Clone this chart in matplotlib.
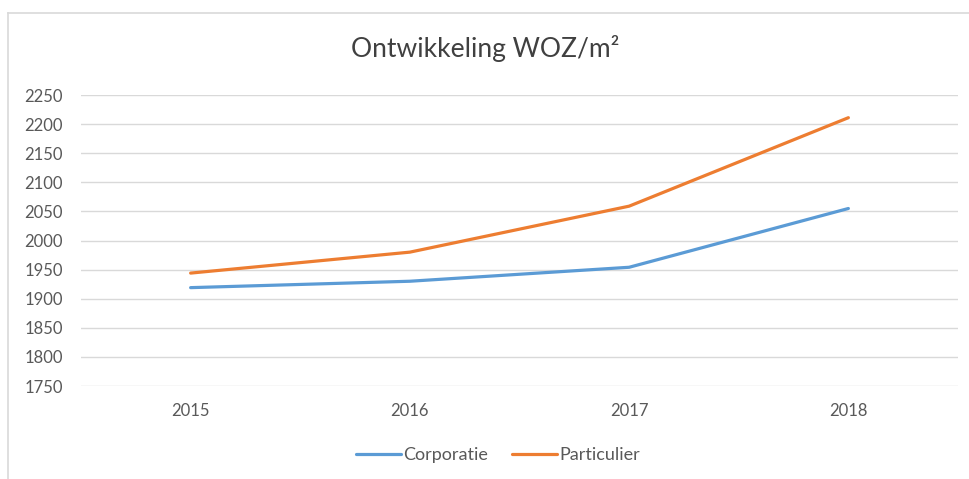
import matplotlib
matplotlib.use("Agg")
import matplotlib.pyplot as plt
from matplotlib.lines import Line2D

years = ["2015", "2016", "2017", "2018"]
corporatie = [1919, 1930, 1954, 2055]
particulier = [1944, 1980, 2059, 2211]
y_ticks = list(range(1750, 2251, 50))

plt.rcParams['font.family'] = ['Lato', 'DejaVu Sans']

fig = plt.figure(figsize=(9.7, 4.79), dpi=100)
ax = fig.add_axes([81 / 970, 1 - 386 / 479, (958 - 81) / 970, (386 - 95) / 479])

x = range(len(years))
ax.plot(x, corporatie, color='#5B9BD5', lw=2.3, solid_capstyle='round', label='Corporatie')
ax.plot(x, particulier, color='#ED7D31', lw=2.3, solid_capstyle='round', label='Particulier')

ax.set_xlim(-0.5, len(years) - 0.5)
ax.set_ylim(1750, 2250)
ax.set_yticks(y_ticks)
ax.set_xticks(list(x))
ax.set_xticklabels(years)
ax.grid(axis='y', color='#D9D9D9', lw=1)
ax.set_axisbelow(True)
for s in ax.spines.values():
    s.set_visible(False)
ax.tick_params(length=0, labelsize=12, colors='#595959')
ax.tick_params(axis='y', pad=13)
ax.tick_params(axis='x', pad=12)

fig.text(0.5, 1 - 48 / 479, "Ontwikkeling WOZ/m²", ha='center', va='center',
         fontsize=19, color='#404040')

fig.legend(loc='center', bbox_to_anchor=(498 / 970, 1 - 455 / 479), ncol=2,
           frameon=False, fontsize=13, handlelength=2.5, handletextpad=0.15,
           columnspacing=1.3, labelcolor='#595959')

# chart frame (left and top edges visible)
fig.add_artist(Line2D([8 / 970, 8 / 970], [0, 1 - 13 / 479], transform=fig.transFigure,
                      color='#D9D9D9', lw=1.2))
fig.add_artist(Line2D([8 / 970, 1], [1 - 13 / 479, 1 - 13 / 479], transform=fig.transFigure,
                      color='#D9D9D9', lw=1.2))

fig.savefig("out.png", dpi=100)
